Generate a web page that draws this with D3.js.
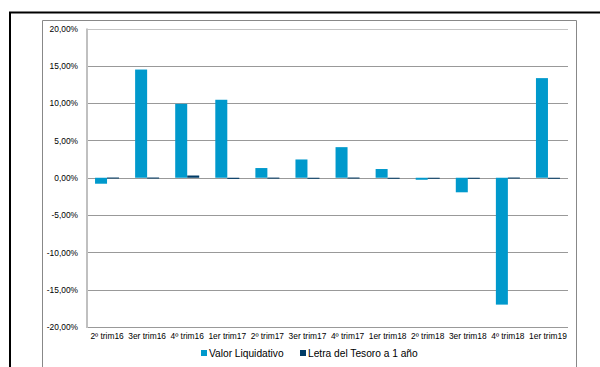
<!DOCTYPE html>
<html><head><meta charset="utf-8">
<script src="https://cdn.jsdelivr.net/npm/d3@7"></script>
<style>body{margin:0;background:#fff}svg{display:block}text{font-family:"Liberation Sans",Arial,sans-serif}</style>
</head><body>
<svg id="c" width="600" height="367"></svg>
<script>
const categories = ["2º trim16","3er trim16","4º trim16","1er trim17","2º trim17","3er trim17","4º trim17","1er trim18","2º trim18","3er trim18","4º trim18","1er trim19"];
const valorLiquidativo = [-0.8, 14.5, 9.9, 10.45, 1.3, 2.45, 4.1, 1.17, -0.27, -1.95, -17.0, 13.35];
const letraTesoro = [0.03, 0.03, 0.3, -0.15, 0.02, 0.0, 0.03, -0.1, -0.08, -0.07, 0.03, -0.1];
const yTicks = [20, 15, 10, 5, 0, -5, -10, -15, -20];
const seriesNames = ["Valor Liquidativo", "Letra del Tesoro a 1 año"];
const colors = ["#0099cc", "#003b66"];

const svg = d3.select("#c");
// outer frames
svg.append("path").attr("d","M600,12.5H10V367").attr("fill","none").attr("stroke","#000").attr("stroke-width",2);
svg.append("path").attr("d","M42.5,367V20.5H576.5V367").attr("fill","none").attr("stroke","#888").attr("stroke-width",1);

const x0 = 87, x1 = 568, yTop = 28.5, yBot = 327;
const x = d3.scaleBand().domain(categories).range([x0, x1]);
const y = d3.scaleLinear().domain([-20, 20]).range([yBot, yTop]);
const fmt = v => v.toFixed(2).replace(".", ",") + "%";

// gridlines
svg.append("g").attr("transform",`translate(${x0},0)`)
  .call(d3.axisLeft(y).tickValues(yTicks).tickSize(-(x1-x0)).tickFormat(""))
  .call(g=>g.select(".domain").remove())
  .call(g=>g.selectAll("line").attr("stroke",d=>d===20?"#c4c4c4":"#999").attr("shape-rendering","crispEdges"));

// bars
const bw = 12;
const groups = [valorLiquidativo, letraTesoro];
groups.forEach((vals, s) => {
  svg.append("g").selectAll("rect").data(vals).join("rect")
    .attr("x", (d,i) => x(categories[i]) + x.bandwidth()/2 - bw + s*bw)
    .attr("width", bw)
    .attr("y", d => y(Math.max(0,d)))
    .attr("height", d => Math.max(Math.abs(y(d)-y(0)), 1))
    .attr("fill", colors[s]);
});

// y axis line
svg.append("line").attr("x1",x0).attr("x2",x0).attr("y1",yTop).attr("y2",yBot+1).attr("stroke","#c0c0c0").attr("stroke-width",2);

// y labels
svg.append("g").attr("transform",`translate(${x0},0)`)
  .call(d3.axisLeft(y).tickValues(yTicks).tickSize(0).tickPadding(9).tickFormat(fmt))
  .call(g=>g.select(".domain").remove())
  .call(g=>g.selectAll("text").attr("font-size","8.4px").attr("fill","#000").attr("font-family","'Liberation Sans',Arial,sans-serif"));

// x labels
svg.append("g").attr("transform",`translate(0,${yBot})`)
  .call(d3.axisBottom(x).tickSize(0).tickPadding(6))
  .call(g=>g.select(".domain").remove())
  .call(g=>g.selectAll("text").attr("font-size","8.4px").attr("fill","#000").attr("font-family","'Liberation Sans',Arial,sans-serif"));

// legend
const legX = [201, 300];
seriesNames.forEach((n,i)=>{
  svg.append("rect").attr("x",legX[i]).attr("y",350).attr("width",6).attr("height",6).attr("fill",colors[i]);
  svg.append("text").attr("x",legX[i]+8).attr("y",357).attr("font-size","10.2px").text(n);
});
</script>
</body></html>
